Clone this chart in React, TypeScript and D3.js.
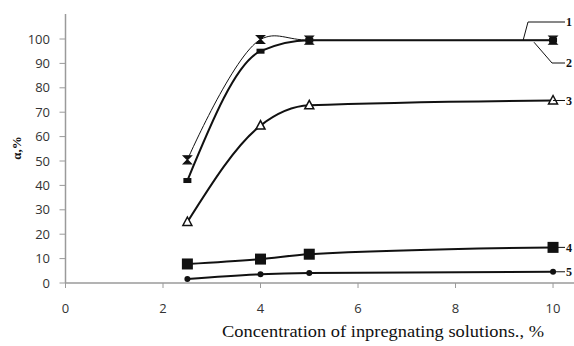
import React from "react";
import * as d3 from "d3";

const xValues = [2.5, 4, 5, 10];
const series1 = [50.5, 99.8, 99.5, 99.5];
const series2 = [42, 95, 99.5, 99.5];
const series3 = [25, 64.5, 72.8, 74.8];
const series4 = [7.8, 9.8, 11.8, 14.6];
const series5 = [1.6, 3.6, 4.1, 4.6];
const yTicks = [0, 10, 20, 30, 40, 50, 60, 70, 80, 90, 100];
const xTicks = [0, 2, 4, 6, 8, 10];
const seriesLabels = ["1", "2", "3", "4", "5"];

const W = 574;
const H = 346;

export default function App() {
  const x = d3.scaleLinear().domain([0, 10.43]).range([65.5, 574]);
  const y = d3.scaleLinear().domain([0, 110]).range([283, 14.6]);
  const mkLine = (curve: d3.CurveFactory) =>
    d3
      .line<number>()
      .x((_, i) => x(xValues[i]))
      .y((d) => y(d))
      .curve(curve);
  const lineBulge = mkLine(d3.curveCatmullRom.alpha(0.5));
  const lineSmooth = mkLine(d3.curveMonotoneX);

  const all = [series1, series2, series3, series4, series5];
  const widths = [1, 2, 2, 2, 2];

  const marker = (s: number, cx: number, cy: number, key: string) => {
    if (s === 0) {
      return (
        <path
          key={key}
          d={`M${cx - 4},${cy - 4}H${cx + 4}L${cx - 4},${cy + 4}H${cx + 4}Z`}
          fill="#111"
          stroke="#111"
          strokeWidth={1.2}
        />
      );
    }
    if (s === 1) {
      return <rect key={key} x={cx - 4} y={cy - 2.5} width={8} height={5} fill="#111" />;
    }
    if (s === 2) {
      return (
        <path
          key={key}
          d={`M${cx},${cy - 5}L${cx + 4.5},${cy + 3.5}H${cx - 4.5}Z`}
          fill="white"
          stroke="#111"
          strokeWidth={1.5}
        />
      );
    }
    if (s === 3) {
      return <rect key={key} x={cx - 5.5} y={cy - 5.5} width={11} height={11} fill="#111" />;
    }
    return <circle key={key} cx={cx} cy={cy} r={3} fill="#111" />;
  };

  const tickFont = "'Open Sans', sans-serif";
  const serif = "'Liberation Serif', 'Times New Roman', serif";
  const labelX = 566;

  return (
    <svg width={W} height={H} style={{ position: "absolute", left: 0, top: 0, background: "white" }}>
      {/* axes */}
      <line x1={x(0)} x2={x(0)} y1={14} y2={y(0)} stroke="#9a9a9a" strokeWidth={1.5} />
      <line x1={x(0)} x2={W} y1={y(0)} y2={y(0)} stroke="#9a9a9a" strokeWidth={1.5} />
      {yTicks.map((t) => (
        <g key={"yt" + t}>
          <line x1={x(0) - 6} x2={x(0)} y1={y(t)} y2={y(t)} stroke="#9a9a9a" strokeWidth={1} />
          <text
            x={50}
            y={y(t)}
            dy="0.36em"
            textAnchor="end"
            fontFamily={tickFont}
            fontSize={13}
            fill="#333"
          >
            {t}
          </text>
        </g>
      ))}
      {xTicks.map((t) => (
        <g key={"xt" + t}>
          <line x1={x(t)} x2={x(t)} y1={y(0)} y2={y(0) + 5} stroke="#9a9a9a" strokeWidth={1} />
          <text
            x={x(t)}
            y={313}
            textAnchor="middle"
            fontFamily={tickFont}
            fontSize={13}
            fill="#333"
          >
            {t}
          </text>
        </g>
      ))}
      {/* axis titles */}
      <text
        transform={`translate(21,148) rotate(-90)`}
        textAnchor="middle"
        fontFamily={serif}
        fontWeight="bold"
        fontSize={13}
        fill="#111"
      >
        α,%
      </text>
      <text
        x={222}
        y={337}
        fontFamily={serif}
        fontSize={17}
        fill="#111"
        textLength={322}
        lengthAdjust="spacingAndGlyphs"
      >
        Concentration of inpregnating solutions., %
      </text>
      {/* series lines */}
      {all.map((s, i) => (
        <path
          key={"l" + i}
          d={(i === 0 ? lineBulge(s) : lineSmooth(s)) || ""}
          fill="none"
          stroke="#111"
          strokeWidth={widths[i]}
        />
      ))}
      {/* markers */}
      {all.map((s, i) => s.map((v, j) => marker(i, x(xValues[j]), y(v), `m${i}-${j}`)))}
      {/* leaders and labels */}
      <path d={`M523,${y(series1[3]) + 0.5}L528,22H${labelX - 1}`} fill="none" stroke="#111" strokeWidth={1} />
      <path d={`M534,${y(series2[3]) + 2}L552,63H${labelX - 1}`} fill="none" stroke="#111" strokeWidth={1} />
      <line x1={x(10)} x2={labelX - 1} y1={y(series3[3])} y2={y(series3[3])} stroke="#111" strokeWidth={1} />
      <line x1={x(10)} x2={labelX - 1} y1={y(series4[3])} y2={y(series4[3])} stroke="#111" strokeWidth={1} />
      <line x1={x(10)} x2={labelX - 1} y1={y(series5[3])} y2={y(series5[3])} stroke="#111" strokeWidth={1} />
      {[22, 63, y(series3[3]), y(series4[3]), y(series5[3])].map((ly, i) => (
        <text
          key={"lab" + i}
          x={labelX}
          y={ly}
          dy="0.35em"
          fontFamily={serif}
          fontWeight="bold"
          fontSize={12}
          fill="#111"
        >
          {seriesLabels[i]}
        </text>
      ))}
    </svg>
  );
}
